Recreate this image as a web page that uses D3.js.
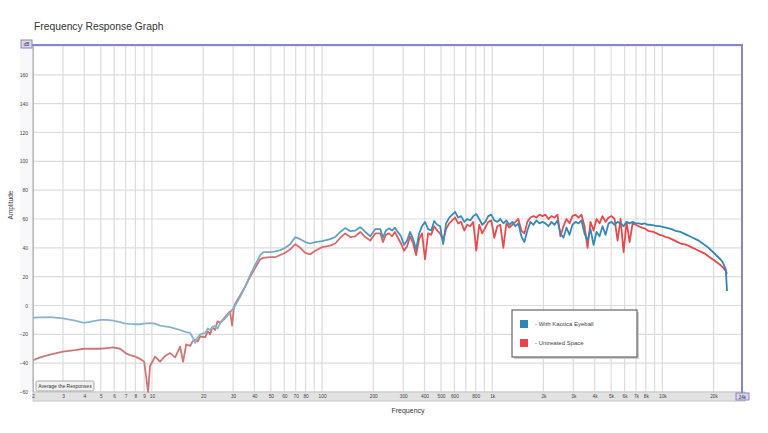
<!DOCTYPE html>
<html><head><meta charset="utf-8">
<script src="https://cdn.jsdelivr.net/npm/d3@7"></script>
<style>body{margin:0;background:#fff;font-family:"Liberation Sans",Arial,sans-serif}</style>
</head><body><svg id="c" width="768" height="433"></svg>
<script>
const freqs=[2,2.2,2.52,3,3.53,4,4.45,5,5.45,5.91,6.5,7,7.44,8,8.5,9,9.24,9.49,9.75,10.44,11.17,11.95,12.8,13.7,14.65,15.25,15.9,16.8,17.3,17.95,18.6,19.2,20.6,21.3,22,22.7,23.5,24.3,25.2,26.9,28.8,29.6,30.3,30.8,33,35.3,37.8,40.4,43.3,45.1,49.6,53.1,56.8,60.7,65,69.5,74.5,79.6,85.2,91.2,100,111.7,119.5,128,136.8,146.5,156.7,167.8,179.5,192,205.6,220,
228,237,247,258,268,279,291,303,316,329,
343,357,372,387,403,420,438,456,475,494,
515,536,559,582,606,631,657,685,713,743,
774,806,839,874,911,948,988,1029,1072,1116,
1163,1211,1261,1314,1368,1425,1484,1546,1610,1677,
1747,1819,1895,1973,2055,2141,2230,2322,2419,2519,
2624,2733,2846,2964,3087,3216,3349,3488,3633,3784,
3941,4105,4275,4453,4638,4830,5031,5240,5457,5684,
5920,6166,6422,6688,6966,7255,7557,7870,8197,8537,
8892,9261,9646,10046,10463,10898,11350,11822,12312,12823,
13356,13910,14488,15089,15716,16368,17048,17755,18492,19260,
20059,20892,21759,22662,23603,24000];
const blueDb=[-8.5,-8.2,-8,-9,-10.5,-12,-11,-10,-10,-10.5,-11.5,-12.5,-12.8,-13,-13,-12.6,-12.4,-12.3,-12.2,-12.6,-14,-14.5,-15,-16,-17,-17.8,-18.5,-19,-22,-26,-22,-20,-19,-16,-17,-15,-14,-16,-12,-9,-5,-3,-1.5,0,6,13,21,28,35,37,37,37.5,38.4,40,42.5,47.4,46,44,43,44,44.6,46,47.5,51,53.7,51.6,52,54.4,51,48,53,53,
47,52,53.5,52,54,51,48,42,45,51,
46,39,50,55,58,53,52,58.6,56,55,
42.6,57,61,63,65,61,62,58,60,59,
62,63.5,60,56,58,62,63,59,58,60,
57,59,56,58,55,57,48,44,52,58,
56,59,57,58,57,55,58,56,59,50,
47,54,49,56,58,57,59,50,45,53,
42,51,48,55,49,57,58,56,58,57,
55,58,57,58,57,57,56.5,57,56,56,
55.5,55,55,54.5,54,53.5,53,52,51.5,51,
50,49,48,47,46,45,43.5,42,40.5,38.5,
36.5,34.5,32.5,30,25,10];
const redDb=[-38,-36,-34,-32,-31,-30,-30,-30,-29.5,-29,-30,-33,-34.5,-35.5,-37,-39,-49,-60,-42,-35.5,-39,-35,-33,-36,-28.6,-39,-27,-28,-25,-23.7,-25,-21.5,-22,-18,-20,-15,-17,-11,-12,-8,-4,-14,-2,1,7,13,20,26,32,33,33.5,33.5,35,36.5,39,42.5,40,36.5,35.5,38,40.5,41.5,43,47,50,47.5,48,51,47.5,45,50,50,
44,49,50,48,51,47,43,38,41,48,
43,35,46,50,32,50,49,55,52,50,
45,53,57,59,61,57,58,52,56,55,
58,38,56,50,54,58,59,47,55,56,
40,57,54,56,58,60,52,50,58,61,
62,61,63,62,63,60,62,61,63,48,
55,60,57,62,63,61,63,55,40,58,
52,60,57,62,58,61,62,60,45,60,
37,58,44,57,56,55,54,53.5,52,51.5,
51,50,49,48.5,47.5,47,46,45,44,43,
42.5,42,41,40,39,38,37,36,34.5,33,
31.5,30,28.5,26.5,24,22];
const xTickValues=[2,3,4,5,6,7,8,9,10,20,30,40,50,60,70,80,100,200,300,400,500,600,800,1000,2000,3000,4000,5000,6000,7000,8000,10000,20000];
const xTickLabels=["2","3","4","5","6","7","8","9","10","20","30","40","50","60","70","80","100","200","300","400","500","600","800","1k","2k","3k","4k","5k","6k","7k","8k","10k","20k"];
const yTickValues=[-60,-40,-20,0,20,40,60,80,100,120,140,160];
const seriesNames=["- With Kaotica Eyeball","- Untreated Space"];
const seriesColors=["#2f86b6","#e8454a"];

const svg=d3.select("#c");
const L=33,R=741,T=46,B=392;
const x=d3.scaleLog().domain([2,29000]).range([L,R]);
const y=d3.scaleLinear().domain([-60,180]).range([B,T]);

// gradients (low-frequency part of the traces looks paler in the reference)
const defs=svg.append("defs");
function grad(id,stops){
  const g=defs.append("linearGradient").attr("id",id).attr("gradientUnits","userSpaceOnUse")
    .attr("x1",L).attr("x2",R).attr("y1",0).attr("y2",0);
  stops.forEach(s=>g.append("stop").attr("offset",s[0]).attr("stop-color",s[1]));
}
grad("gBlue",[[0,"#8ab6cc"],[0.25,"#86b3ca"],[0.45,"#5f9ec2"],[0.55,"#3a8bb9"],[1,seriesColors[0]]]);
grad("gRed",[[0,"#c97878"],[0.25,"#cf7474"],[0.45,"#dc6a6c"],[0.55,"#e5504f"],[1,seriesColors[1]]]);

// title
svg.append("text").attr("x",34).attr("y",30).attr("font-size",10.3).attr("fill","#333").text("Frequency Response Graph");

// left panel
svg.append("rect").attr("x",20).attr("y",T).attr("width",L-20).attr("height",B-T).attr("fill","#f8f8fa");
svg.append("rect").attr("x",L).attr("y",T).attr("width",R-L).attr("height",B-T).attr("fill","#fff");

// grid
const gridF=[];
[1,10,100,1000,10000].forEach(d=>{for(let m=1;m<10;m++){const f=d*m;if(f>=2&&f<=29000)gridF.push(f);}});
gridF.push(20000);
svg.append("g").selectAll("line").data(gridF).join("line")
 .attr("x1",d=>x(d)).attr("x2",d=>x(d)).attr("y1",T).attr("y2",B)
 .attr("stroke","#dcdcdc").attr("stroke-width",1.2);
svg.append("g").selectAll("line").data(yTickValues.concat([180])).join("line")
 .attr("x1",L).attr("x2",R).attr("y1",d=>y(d)).attr("y2",d=>y(d))
 .attr("stroke","#dcdcdc").attr("stroke-width",1.2);

// y axis
const yAxis=d3.axisLeft(y).tickValues(yTickValues).tickSize(0).tickPadding(5);
const gy=svg.append("g").attr("transform",`translate(${L},0)`).call(yAxis);
gy.select(".domain").attr("stroke","#b8b8c0");
gy.selectAll("text").attr("font-size",5).attr("fill","#444").attr("font-family","Liberation Sans, Arial, sans-serif");
svg.append("text").attr("transform","translate(13,205) rotate(-90)").attr("text-anchor","middle").attr("font-size",6.5).attr("fill","#333").text("Amplitude");

// bottom band
svg.append("rect").attr("x",L).attr("y",B).attr("width",R-L+4).attr("height",9).attr("fill","#e2e2e2").attr("stroke","#c6c6c6").attr("stroke-width",1);
const xAxis=d3.axisBottom(x).tickValues(xTickValues).tickFormat((d,i)=>xTickLabels[i]).tickSize(0).tickPadding(3);
const gx=svg.append("g").attr("transform",`translate(0,${B})`).call(xAxis);
gx.select(".domain").remove();
gx.selectAll("text").attr("font-size",4.8).attr("fill","#444").attr("font-family","Liberation Sans, Arial, sans-serif");
svg.append("text").attr("x",408).attr("y",413).attr("text-anchor","middle").attr("font-size",7).attr("fill","#333").text("Frequency");

// curves
const line=d3.line().x(d=>x(d[0])).y(d=>y(d[1])).curve(d3.curveLinear);
const redPts=freqs.map((f,i)=>[f,redDb[i]]);
const bluePts=freqs.map((f,i)=>[f,blueDb[i]]);
svg.append("path").datum(redPts).attr("d",line).attr("fill","none").attr("stroke","url(#gRed)").attr("stroke-width",1.8).attr("stroke-linejoin","round");
svg.append("path").datum(bluePts).attr("d",line).attr("fill","none").attr("stroke","url(#gBlue)").attr("stroke-width",1.8).attr("stroke-linejoin","round");

// borders
svg.append("line").attr("x1",L-12).attr("x2",R+2).attr("y1",T-1).attr("y2",T-1).attr("stroke","#8a86c4").attr("stroke-width",2);
svg.append("line").attr("x1",R+1).attr("x2",R+1).attr("y1",T-1).attr("y2",B+4).attr("stroke","#8a86c4").attr("stroke-width",2);
svg.append("line").attr("x1",L).attr("x2",L).attr("y1",T).attr("y2",B).attr("stroke","#b8b8c0").attr("stroke-width",1);
svg.append("rect").attr("x",21).attr("y",40).attr("width",11).attr("height",8).attr("fill","#d8d6ee").attr("stroke","#8a86c4");
svg.append("text").attr("x",26.5).attr("y",46).attr("text-anchor","middle").attr("font-size",4.5).attr("fill","#333").text("dB");
svg.append("rect").attr("x",R-5).attr("y",B+1).attr("width",13).attr("height",7).attr("fill","#d8d6ee").attr("stroke","#8a86c4");
svg.append("text").attr("x",R+1.5).attr("y",B+6.5).attr("text-anchor","middle").attr("font-size",4.5).attr("fill","#333").text("24k");

// button
svg.append("rect").attr("x",36).attr("y",381).attr("width",58).attr("height",10).attr("rx",1.5).attr("fill","#f0f0f0").attr("stroke","#aaa");
svg.append("text").attr("x",65).attr("y",388).attr("text-anchor","middle").attr("font-size",5).attr("fill","#333").text("Average the Responses");

// legend
const lg=svg.append("g");
lg.append("rect").attr("x",514).attr("y",312).attr("width",125).attr("height",47).attr("fill","#ccc");
lg.append("rect").attr("x",512).attr("y",310).attr("width",125).attr("height",47).attr("fill","#fff").attr("stroke","#666").attr("stroke-width",1.2);
seriesNames.forEach((n,i)=>{
  const yy=320+i*19;
  lg.append("rect").attr("x",520).attr("y",yy).attr("width",8).attr("height",8).attr("fill",seriesColors[i]);
  lg.append("text").attr("x",535).attr("y",yy+6).attr("font-size",6).attr("fill","#444").text(n);
});
</script></body></html>
